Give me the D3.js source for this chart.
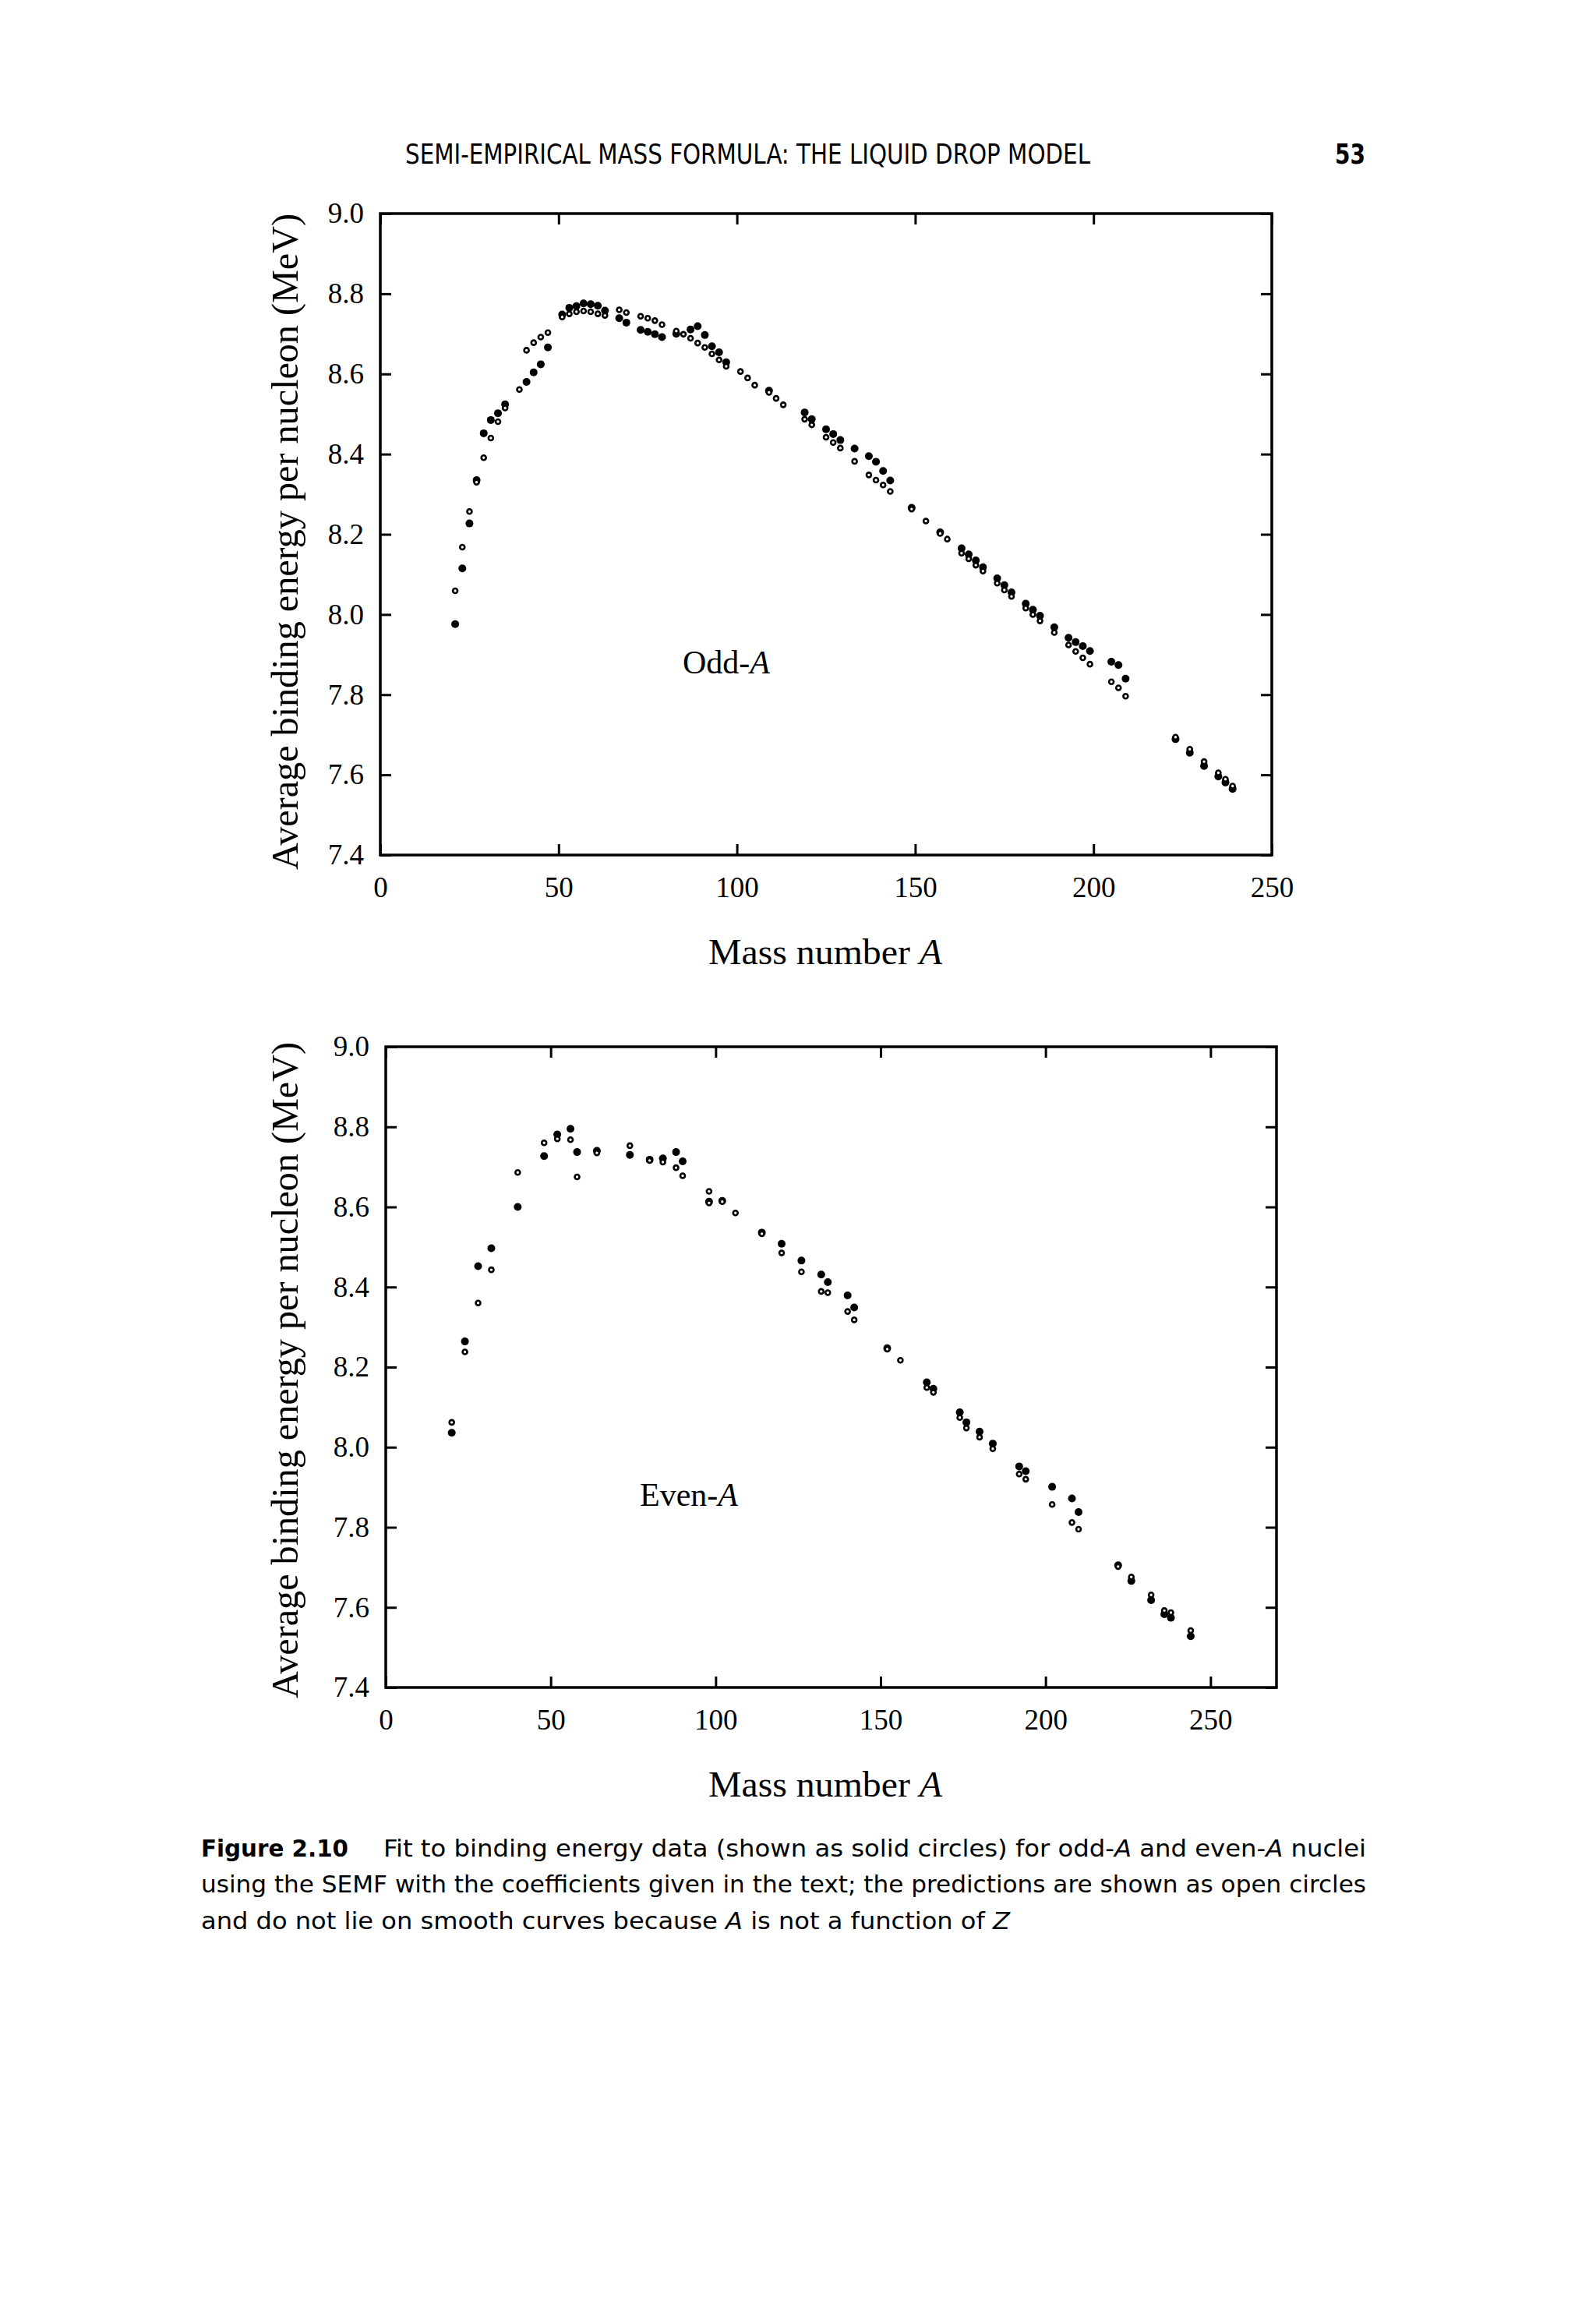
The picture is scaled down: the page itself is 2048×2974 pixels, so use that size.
<!DOCTYPE html>
<html>
<head>
<meta charset="utf-8">
<script src="https://cdn.jsdelivr.net/npm/d3@7"></script>
<style>
  html, body { margin: 0; padding: 0; background: #fff; }
  #page { width: 2048px; height: 2974px; }
</style>
</head>
<body>
<div id="page"></div>
<script>
// --- Data: odd-A nuclei (solid = measured, open = SEMF prediction) ---
const oddMeasuredA = [21, 23, 25, 27, 29, 31, 33, 35, 41, 43, 45, 47, 51, 53, 55, 57, 59, 61, 63,
  67, 69, 73, 75, 77, 79, 83, 87, 89, 91, 93, 95, 97, 109, 119, 121, 125, 127, 129, 133, 137,
  139, 141, 143, 149, 157, 163, 165, 167, 169, 173, 175, 177, 181, 183, 185, 189, 193, 195,
  197, 199, 205, 207, 209, 223, 227, 231, 235, 237, 239];
const oddMeasuredBE = [7.976, 8.115, 8.227, 8.335, 8.452, 8.485, 8.502, 8.524, 8.580, 8.604,
  8.624, 8.666, 8.748, 8.765, 8.769, 8.776, 8.774, 8.770, 8.758, 8.739, 8.728, 8.710, 8.705,
  8.699, 8.692, 8.700, 8.711, 8.719, 8.697, 8.669, 8.654, 8.629, 8.558, 8.504, 8.487, 8.462,
  8.450, 8.435, 8.414, 8.395, 8.381, 8.358, 8.334, 8.266, 8.205, 8.165, 8.150, 8.135, 8.118,
  8.090, 8.073, 8.055, 8.027, 8.012, 7.997, 7.968, 7.942, 7.931, 7.921, 7.909, 7.882, 7.874,
  7.840, 7.689, 7.655, 7.622, 7.596, 7.581, 7.565];
const oddSemfA = [21, 23, 25, 27, 29, 31, 33, 35, 39, 41, 43, 45, 47, 51, 53, 55, 57, 59, 61, 63,
  67, 69, 73, 75, 77, 79, 83, 85, 87, 89, 91, 93, 95, 97, 101, 103, 105, 109, 111, 113, 119,
  121, 125, 127, 129, 133, 137, 139, 141, 143, 149, 153, 157, 159, 163, 165, 167, 169, 173,
  175, 177, 181, 183, 185, 189, 193, 195, 197, 199, 205, 207, 209, 223, 227, 231, 235, 237, 239];
const oddSemfBE = [8.059, 8.168, 8.257, 8.330, 8.391, 8.440, 8.481, 8.515, 8.561, 8.659, 8.678,
  8.692, 8.703, 8.742, 8.750, 8.755, 8.757, 8.755, 8.750, 8.746, 8.760, 8.753, 8.744, 8.739,
  8.733, 8.723, 8.707, 8.699, 8.689, 8.677, 8.666, 8.650, 8.635, 8.619, 8.606, 8.590, 8.572,
  8.554, 8.539, 8.523, 8.487, 8.473, 8.442, 8.429, 8.415, 8.382, 8.348, 8.335, 8.323, 8.307,
  8.263, 8.233, 8.202, 8.188, 8.153, 8.139, 8.123, 8.108, 8.078, 8.061, 8.045, 8.016, 8.000,
  7.984, 7.955, 7.924, 7.908, 7.892, 7.876, 7.832, 7.817, 7.796, 7.694, 7.664, 7.633, 7.605,
  7.589, 7.572];

// --- Data: even-A nuclei ---
const evenMeasuredA = [20, 24, 28, 32, 40, 48, 52, 56, 58, 64, 74, 80, 84, 88, 90, 98, 102, 114,
  120, 126, 132, 134, 140, 142, 152, 164, 166, 174, 176, 180, 184, 192, 194, 202, 208, 210,
  222, 226, 232, 236, 238, 244];
const evenMeasuredBE = [8.036, 8.264, 8.452, 8.497, 8.600, 8.727, 8.781, 8.795, 8.737, 8.740,
  8.730, 8.718, 8.721, 8.737, 8.714, 8.613, 8.615, 8.536, 8.508, 8.466, 8.431, 8.412, 8.379,
  8.349, 8.247, 8.162, 8.146, 8.087, 8.062, 8.039, 8.009, 7.952, 7.940, 7.901, 7.872, 7.838,
  7.705, 7.666, 7.618, 7.583, 7.574, 7.528];
const evenSemfA = [20, 24, 28, 32, 40, 48, 52, 56, 58, 64, 74, 80, 84, 88, 90, 98, 98, 102, 106,
  114, 120, 126, 132, 134, 140, 142, 152, 156, 164, 166, 174, 176, 180, 184, 192, 194, 202,
  208, 210, 222, 226, 232, 236, 238, 244];
const evenSemfBE = [8.062, 8.238, 8.360, 8.443, 8.686, 8.760, 8.770, 8.768, 8.675, 8.735, 8.753,
  8.716, 8.712, 8.698, 8.678, 8.639, 8.610, 8.613, 8.585, 8.533, 8.485, 8.438, 8.389, 8.386,
  8.339, 8.318, 8.245, 8.217, 8.149, 8.137, 8.074, 8.048, 8.025, 7.996, 7.933, 7.920, 7.857,
  7.812, 7.795, 7.702, 7.676, 7.631, 7.592, 7.587, 7.542];

// --- Axis ticks ---
const xTickValues = [0, 50, 100, 150, 200, 250];
const yTickValues = [7.4, 7.6, 7.8, 8.0, 8.2, 8.4, 8.6, 8.8, 9.0];

const headerText = "SEMI-EMPIRICAL MASS FORMULA: THE LIQUID DROP MODEL";
const pageNumber = "53";
const yAxisTitle = "Average binding energy per nucleon (MeV)";

document.addEventListener("DOMContentLoaded", () => {
  const SERIF = "'Liberation Serif', 'Times New Roman', serif";
  const SANS = "'DejaVu Sans Condensed', 'DejaVu Sans', sans-serif";

  const svg = d3
    .select("#page")
    .append("svg")
    .attr("width", 2048)
    .attr("height", 2974);

  svg.append("rect").attr("width", 2048).attr("height", 2974).attr("fill", "#fff");

  const zip = (a, b) => a.map((v, i) => [v, b[i]]);

  // --- Running head ---
  svg
    .append("text")
    .attr("x", 520)
    .attr("y", 210)
    .attr("font-family", SANS)
    .attr("font-stretch", "condensed")
    .attr("font-size", 35)
    .attr("textLength", 879)
    .attr("lengthAdjust", "spacingAndGlyphs")
    .text(headerText);

  svg
    .append("text")
    .attr("x", 1713)
    .attr("y", 210)
    .attr("font-family", SANS)
    .attr("font-weight", "bold")
    .attr("font-size", 35)
    .attr("textLength", 39)
    .attr("lengthAdjust", "spacingAndGlyphs")
    .text(pageNumber);

  // --- Panels ---
  const panels = [
    {
      left: 488, right: 1632, top: 274, bottom: 1097, xMax: 250,
      measured: zip(oddMeasuredA, oddMeasuredBE),
      semf: zip(oddSemfA, oddSemfBE),
      tag: "Odd-", tagX: 932, tagY: 864, titleY: 695
    },
    {
      left: 495, right: 1638, top: 1343, bottom: 2165, xMax: 270,
      measured: zip(evenMeasuredA, evenMeasuredBE),
      semf: zip(evenSemfA, evenSemfBE),
      tag: "Even-", tagX: 884, tagY: 1932, titleY: 1758
    }
  ];

  function styleAxis(sel, withText) {
    sel.select(".domain").remove();
    sel.selectAll(".tick line").attr("stroke", "#000").attr("stroke-width", 3);
    if (withText) {
      sel
        .attr("font-family", SERIF)
        .attr("font-size", 37)
        .selectAll(".tick text")
        .attr("fill", "#000");
    }
  }

  function drawPanel(p) {
    const x = d3.scaleLinear().domain([0, p.xMax]).range([p.left, p.right]);
    const y = d3.scaleLinear().domain([7.4, 9.0]).range([p.bottom, p.top]);
    const g = svg.append("g");

    // ticks point inwards on all four sides
    g.append("g")
      .attr("transform", `translate(0,${p.bottom})`)
      .call(d3.axisBottom(x).tickValues(xTickValues).tickSizeInner(-14).tickSizeOuter(0)
        .tickPadding(28).tickFormat(d3.format("d")))
      .call((s) => styleAxis(s, true));

    g.append("g")
      .attr("transform", `translate(0,${p.top})`)
      .call(d3.axisTop(x).tickValues(xTickValues).tickSizeInner(-14).tickSizeOuter(0).tickFormat(""))
      .call((s) => styleAxis(s, false));

    g.append("g")
      .attr("transform", `translate(${p.left},0)`)
      .call(d3.axisLeft(y).tickValues(yTickValues).tickSizeInner(-14).tickSizeOuter(0)
        .tickPadding(21).tickFormat(d3.format(".1f")))
      .call((s) => styleAxis(s, true));

    g.append("g")
      .attr("transform", `translate(${p.right},0)`)
      .call(d3.axisRight(y).tickValues(yTickValues).tickSizeInner(-14).tickSizeOuter(0).tickFormat(""))
      .call((s) => styleAxis(s, false));

    // frame
    g.append("rect")
      .attr("x", p.left)
      .attr("y", p.top)
      .attr("width", p.right - p.left)
      .attr("height", p.bottom - p.top)
      .attr("fill", "none")
      .attr("stroke", "#000")
      .attr("stroke-width", 3.5);

    // measured values (solid)
    g.selectAll("circle.measured")
      .data(p.measured)
      .join("circle")
      .attr("class", "measured")
      .attr("cx", (d) => x(d[0]))
      .attr("cy", (d) => y(d[1]))
      .attr("r", 5)
      .attr("fill", "#000");

    // SEMF predictions (open), drawn on top
    g.selectAll("circle.semf")
      .data(p.semf)
      .join("circle")
      .attr("class", "semf")
      .attr("cx", (d) => x(d[0]))
      .attr("cy", (d) => y(d[1]))
      .attr("r", 3)
      .attr("fill", "#fff")
      .attr("stroke", "#000")
      .attr("stroke-width", 2.6);

    // in-plot tag
    const tag = g.append("text")
      .attr("x", p.tagX)
      .attr("y", p.tagY)
      .attr("text-anchor", "middle")
      .attr("font-family", SERIF)
      .attr("font-size", 42);
    tag.append("tspan").text(p.tag);
    tag.append("tspan").attr("font-style", "italic").text("A");

    // axis titles
    const xt = g.append("text")
      .attr("x", 1059)
      .attr("y", p.bottom + 140)
      .attr("text-anchor", "middle")
      .attr("font-family", SERIF)
      .attr("font-size", 46)
      .attr("textLength", 300)
      .attr("lengthAdjust", "spacingAndGlyphs");
    xt.append("tspan").text("Mass number ");
    xt.append("tspan").attr("font-style", "italic").text("A");

    g.append("text")
      .attr("transform", `translate(382,${p.titleY}) rotate(-90)`)
      .attr("text-anchor", "middle")
      .attr("font-family", SERIF)
      .attr("font-size", 49)
      .attr("textLength", 842)
      .attr("lengthAdjust", "spacingAndGlyphs")
      .text(yAxisTitle);
  }

  panels.forEach(drawPanel);

  // --- Caption ---
  function captionLine(xPos, yPos, width, parts, weight) {
    const t = svg.append("text")
      .attr("x", xPos)
      .attr("y", yPos)
      .attr("font-family", SANS)
      .attr("font-stretch", "condensed")
      .attr("font-size", 31)
      .attr("textLength", width)
      .attr("lengthAdjust", "spacingAndGlyphs");
    if (weight) t.attr("font-weight", weight);
    parts.forEach(([s, italic]) => {
      const ts = t.append("tspan").text(s);
      if (italic) ts.attr("font-style", "italic");
    });
  }

  captionLine(258, 2382, 189, [["Figure 2.10", false]], "bold");
  captionLine(492, 2382, 1261, [
    ["Fit to binding energy data (shown as solid circles) for odd-", false],
    ["A", true],
    [" and even-", false],
    ["A", true],
    [" nuclei", false]
  ]);
  captionLine(258, 2428, 1495, [
    ["using the SEMF with the coefficients given in the text; the predictions are shown as open circles", false]
  ]);
  captionLine(258, 2475, 1038, [
    ["and do not lie on smooth curves because ", false],
    ["A", true],
    [" is not a function of ", false],
    ["Z", true]
  ]);
});
</script>
</body>
</html>
